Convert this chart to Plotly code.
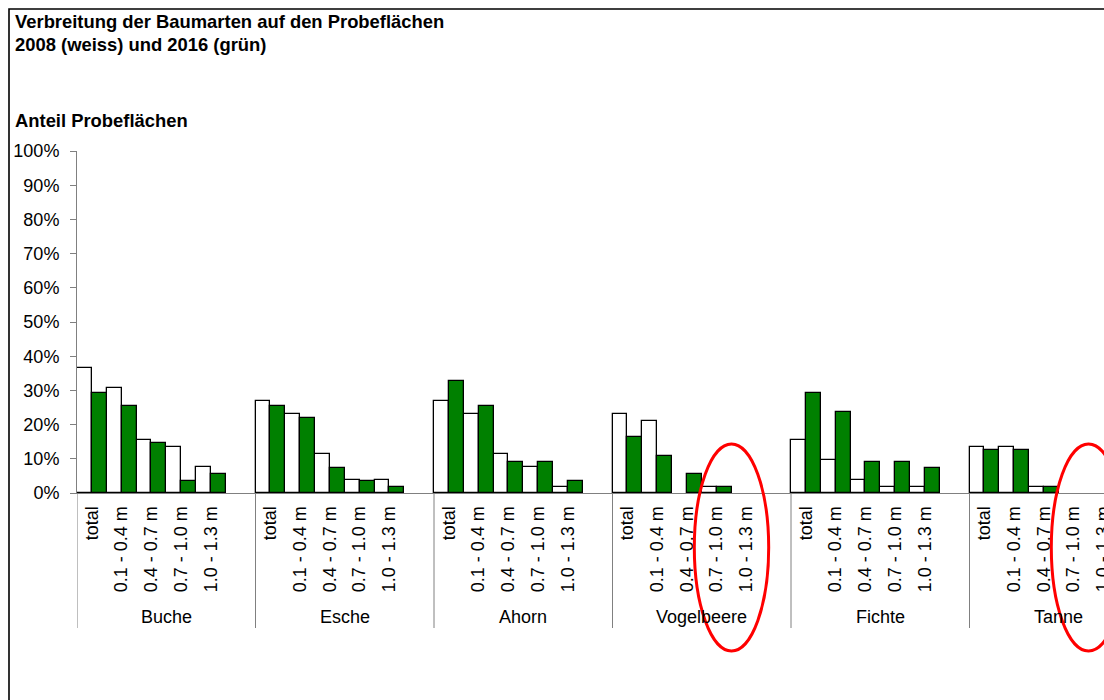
import plotly.graph_objects as go

# ---- data ----
species = ["Buche", "Esche", "Ahorn", "Vogelbeere", "Fichte", "Tanne"]
classes = ["total", "0.1 - 0.4 m", "0.4 - 0.7 m", "0.7 - 1.0 m", "1.0 - 1.3 m"]

share_2008 = {
    "Buche":      [36.5, 30.8, 15.4, 13.5, 7.7],
    "Esche":      [26.9, 23.1, 11.5, 3.8, 3.8],
    "Ahorn":      [26.9, 23.1, 11.5, 7.7, 1.9],
    "Vogelbeere": [23.1, 21.2, 0.0, 1.9, 0.0],
    "Fichte":     [15.4, 9.6, 3.8, 1.9, 1.9],
    "Tanne":      [13.5, 13.5, 1.9, 0.0, 0.0],
}
share_2016 = {
    "Buche":      [29.1, 25.5, 14.5, 3.6, 5.5],
    "Esche":      [25.5, 21.8, 7.3, 3.6, 1.8],
    "Ahorn":      [32.7, 25.5, 9.1, 9.1, 3.6],
    "Vogelbeere": [16.4, 10.9, 5.5, 1.8, 0.0],
    "Fichte":     [29.1, 23.6, 9.1, 9.1, 7.3],
    "Tanne":      [12.7, 12.7, 1.8, 0.0, 0.0],
}
y_ticks = [0, 10, 20, 30, 40, 50, 60, 70, 80, 90, 100]

# ---- layout helpers (category slots: 5 classes + 1 empty slot per species) ----
SLOTS = len(classes) + 1
FONT = "Liberation Sans, Arial, sans-serif"
GRAY = "#808080"

xs, ys08, ys16, tickvals, ticktext = [], [], [], [], []
for g, sp in enumerate(species):
    for s, c in enumerate(classes):
        x = g * SLOTS + s
        xs.append(x)
        ys08.append(share_2008[sp][s] / 100)
        ys16.append(share_2016[sp][s] / 100)
        tickvals.append(x)
        ticktext.append(c)


def outline(vals):
    return [1.3 if v > 0 else 0 for v in vals]


fig = go.Figure()
fig.add_trace(go.Bar(x=xs, y=ys08, name="2008",
                     marker=dict(color="white", line=dict(color="black", width=outline(ys08)))))
fig.add_trace(go.Bar(x=xs, y=ys16, name="2016",
                     marker=dict(color="#008000", line=dict(color="black", width=outline(ys16)))))

# plot-area geometry in pixels; the figure is wider than the window so the
# right part of the chart is cropped like in the reference
W, H = 1160, 700
ML, MR, MT, MB = 77, 0, 151, 207
PH = H - MT - MB
PW = W - ML - MR
SLOT_PX = 29.75


def py(pixel_y):
    return (H - MB - pixel_y) / PH


def px(pixel_x):
    return (pixel_x - ML) / PW


shapes = []
# group separators extending below the axis
for g in range(len(species) + 1):
    shapes.append(dict(type="line", xref="x", yref="paper",
                       x0=g * SLOTS - 0.5, x1=g * SLOTS - 0.5,
                       y0=0, y1=py(628), line=dict(color=GRAY, width=1)))
# chart border (cropped at right/bottom)
shapes.append(dict(type="rect", xref="paper", yref="paper",
                   x0=px(9), x1=px(1250), y0=py(9), y1=py(800),
                   line=dict(color="black", width=1.6), layer="below"))
# red ellipses
for g in (3, 5):
    cx = g * SLOTS + 3.5
    shapes.append(dict(type="circle", xref="x", yref="paper",
                       x0=cx - 1.25, x1=cx + 1.25, y0=py(651), y1=py(444),
                       line=dict(color="#ff0000", width=3), layer="above"))

annotations = []
for g, sp in enumerate(species):
    annotations.append(dict(text=sp, xref="x", yref="paper", x=g * SLOTS + 2.5,
                            y=py(617), xanchor="center", yanchor="middle",
                            showarrow=False, font=dict(size=18, color="black", family=FONT)))
for txt, yy in [("<b>Verbreitung der Baumarten auf den Probeflächen</b>", 22),
                ("<b>2008 (weiss) und 2016 (grün)</b>", 44),
                ("<b>Anteil Probeflächen</b>", 121)]:
    annotations.append(dict(text=txt, xref="paper", yref="paper", x=px(13), y=py(yy),
                            xanchor="left", yanchor="middle", showarrow=False,
                            font=dict(size=18.4, color="black", family=FONT)))

fig.update_layout(
    width=W, height=H,
    margin=dict(l=ML, r=MR, t=MT, b=MB),
    paper_bgcolor="white", plot_bgcolor="white",
    barmode="group", bargap=0, bargroupgap=0,
    showlegend=False,
    font=dict(family=FONT, size=18, color="black"),
    shapes=shapes, annotations=annotations,
    xaxis=dict(range=[-0.5, -0.5 + PW / SLOT_PX], tickmode="array",
               tickvals=tickvals, ticktext=ticktext, tickangle=-90,
               ticks="", showgrid=False, zeroline=False,
               showline=True, linecolor=GRAY, linewidth=1.2,
               ticklabelstandoff=5, tickfont=dict(size=18, family=FONT, color="black")),
    yaxis=dict(range=[0, 1], tickmode="array", tickvals=[v / 100 for v in y_ticks],
               ticktext=[f"{v}%" for v in y_ticks],
               ticks="outside", ticklen=6, tickcolor=GRAY, tickwidth=1,
               showgrid=False, zeroline=False, showline=True, linecolor=GRAY, linewidth=1,
               ticklabelstandoff=7, tickfont=dict(size=18, family=FONT, color="black")),
)

fig.write_html("out.html", config={"displayModeBar": False},
               post_script="document.body.style.margin='0';document.body.style.overflow='hidden';")
